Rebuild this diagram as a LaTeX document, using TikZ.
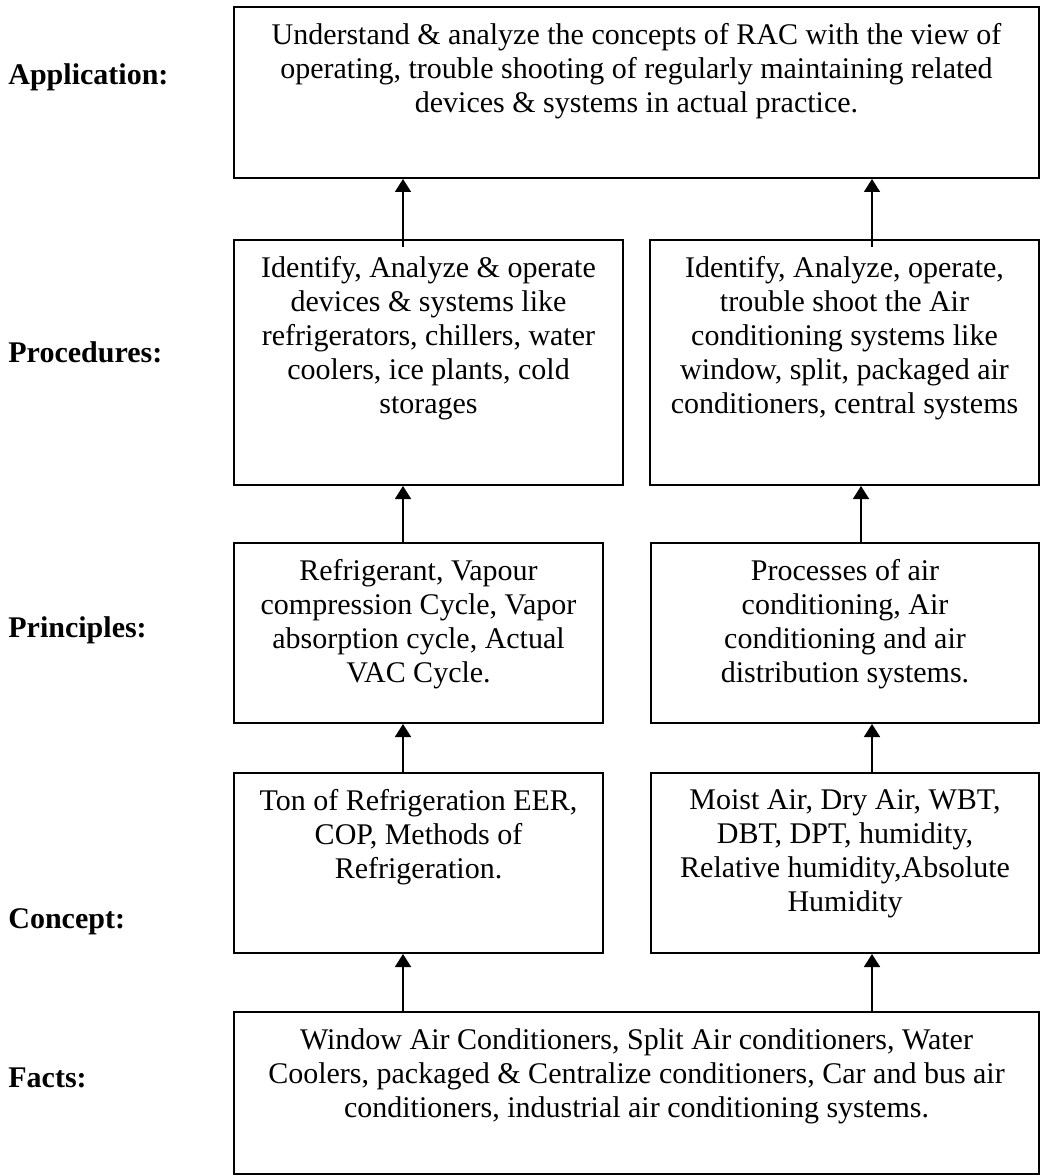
\documentclass[tikz,border=0pt]{standalone}
\usepackage{fontspec}
\setmainfont{Liberation Serif}
\usetikzlibrary{positioning,arrows.meta,calc}
\tikzset{
  box/.style={draw, line width=1pt, inner sep=0pt},
  txt/.style={align=center, inner sep=0pt, font=\fontsize{15}{17}\selectfont},
  lvl/.style={anchor=base west, inner sep=0pt, font=\fontsize{15}{17}\selectfont\bfseries},
  up/.style={line width=0.9pt, -{Triangle[length=6.5pt,width=8pt]}}
}
\begin{document}
\begin{tikzpicture}[x=0.5pt,y=-0.5pt]
\useasboundingbox (0,0) rectangle (1041,1176);
\node[box, minimum width=402.5pt, minimum height=85.5pt] (app) at (636.5,92.5){};
\node[box, minimum width=194.5pt, minimum height=122.5pt] (procl) at (428.5,362.5){};
\node[box, minimum width=194.5pt, minimum height=122.5pt] (procr) at (844.5,362.5){};
\node[box, minimum width=184.5pt, minimum height=90pt] (prinl) at (418.5,633){};
\node[box, minimum width=194pt, minimum height=90pt] (prinr) at (845,633){};
\node[box, minimum width=184.5pt, minimum height=90pt] (conl) at (418.5,863){};
\node[box, minimum width=194pt, minimum height=90pt] (conr) at (845,863){};
\node[box, minimum width=402.5pt, minimum height=81pt] (facts) at (636.5,1093){};
\node[txt, below=8.5pt of app.north] (app-t) {Understand \& analyze the concepts of RAC with the view of\\operating, trouble shooting of regularly maintaining related\\devices \& systems in actual practice.};
\node[txt, below=8.5pt of procl.north] (procl-t) {Identify, Analyze \& operate\\devices \& systems like\\refrigerators, chillers, water\\coolers, ice plants, cold\\storages};
\node[txt, below=8.5pt of procr.north] (procr-t) {Identify, Analyze, operate,\\trouble shoot the Air\\conditioning systems like\\window, split, packaged air\\conditioners, central systems};
\node[txt, below=8.5pt of prinl.north] (prinl-t) {Refrigerant, Vapour\\compression Cycle, Vapor\\absorption cycle, Actual\\VAC Cycle.};
\node[txt, below=8.5pt of prinr.north] (prinr-t) {Processes of air\\conditioning, Air\\conditioning and air\\distribution systems.};
\node[txt, below=8.5pt of conl.north] (conl-t) {Ton of Refrigeration EER,\\COP, Methods of\\Refrigeration.};
\node[txt, below=8.5pt of conr.north] (conr-t) {Moist Air, Dry Air, WBT,\\DBT, DPT, humidity,\\Relative humidity,Absolute\\Humidity};
\node[txt, below=8.5pt of facts.north] (facts-t) {Window Air Conditioners, Split Air conditioners, Water\\Coolers, packaged \& Centralize conditioners, Car and bus air\\conditioners, industrial air conditioning systems.};
\node[lvl] (l-app) at (8,85) {Application:};
\node[lvl] (l-proc) at (8,362) {Procedures:};
\node[lvl] (l-prin) at (8,637) {Principles:};
\node[lvl] (l-con) at (8,928) {Concept:};
\node[lvl] (l-facts) at (8,1087) {Facts:};
\coordinate (lx) at (403,0);
\coordinate (rx) at (872,0);
\coordinate (rx2) at (861,0);
\draw[up] ($(procl.north -| lx)+(0,8)$) -- (app.south -| lx);
\draw[up] ($(procr.north -| rx)+(0,8)$) -- (app.south -| rx);
\draw[up] (prinl.north -| lx) -- (procl.south -| lx);
\draw[up] (prinr.north -| rx2) -- (procr.south -| rx2);
\draw[up] (conl.north -| lx) -- (prinl.south -| lx);
\draw[up] (conr.north -| rx) -- (prinr.south -| rx);
\draw[up] (facts.north -| lx) -- (conl.south -| lx);
\draw[up] (facts.north -| rx) -- (conr.south -| rx);
\end{tikzpicture}
\end{document}
